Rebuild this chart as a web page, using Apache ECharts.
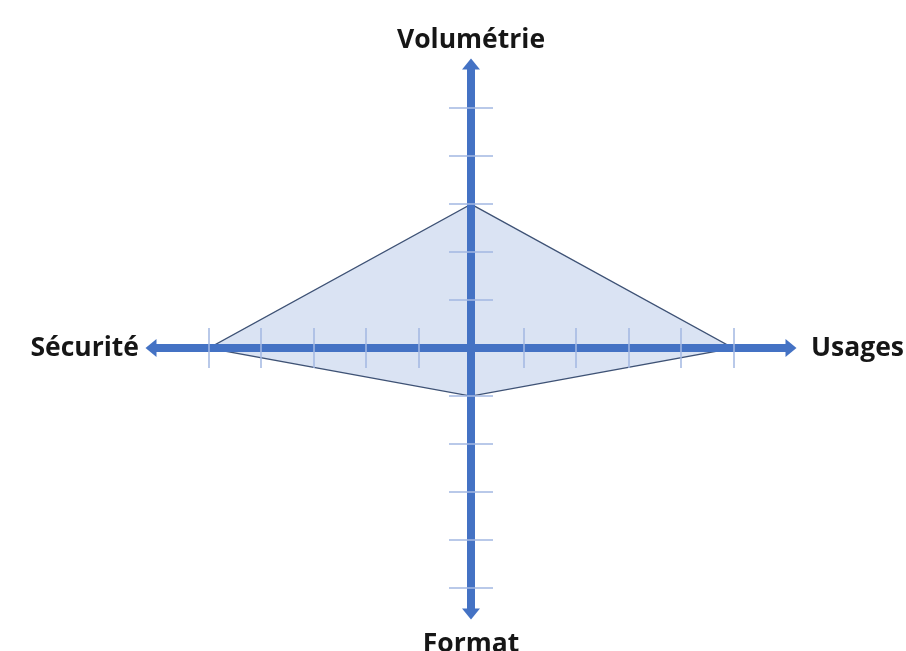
<!DOCTYPE html>
<html>
<head>
<meta charset="utf-8">
<script src="https://cdn.jsdelivr.net/npm/echarts@6/dist/echarts.min.js"></script>
<style>
  html, body { margin: 0; padding: 0; background: #fff; }
  #chart { width: 906px; height: 651px; }
</style>
</head>
<body>
<div id="chart"></div>
<script>
// the four axes, clockwise from the top
const axisNames = ['Volumétrie', 'Usages', 'Format', 'Sécurité'];
const scores = [3, 5, 1, 5];
// tick marks along every axis (centre excluded)
const tickValues = [-5, -4, -3, -2, -1, 1, 2, 3, 4, 5];

// direction of each axis on the x/y plane
const dirs = [[0, 1], [1, 0], [0, -1], [-1, 0]];
const points = scores.map((v, i) => [dirs[i][0] * v, dirs[i][1] * v]);

const blue = '#4472C4';
const tickColor = '#A3B8E2';
const nameStyle = {
  fontFamily: 'Open Sans',
  fontWeight: 'bold',
  fontSize: 26.5,
  color: '#161616'
};

const lineOpts = {
  onZero: true,
  onZeroAxisIndex: 0,
  symbol: ['triangle', 'triangle'],
  symbolSize: [18, 11],
  lineStyle: { color: blue, width: 8, cap: 'butt' }
};

function xAx (name, loc, gap, showLine) {
  return {
    type: 'value',
    min: -6.1,
    max: 6.1,
    z: 5,
    name: name,
    nameLocation: loc,
    nameGap: gap,
    nameTextStyle: nameStyle,
    axisLine: Object.assign({ show: showLine }, lineOpts),
    axisTick: {
      show: true,
      customValues: tickValues,
      length: 20,
      lineStyle: { color: tickColor, width: 1.5 }
    },
    axisLabel: { show: false },
    splitLine: { show: false }
  }
}

function yAx (name, loc, gap, showLine) {
  return {
    type: 'value',
    min: -5.54,
    max: 5.92,
    z: 5,
    name: name,
    nameLocation: loc,
    nameGap: gap,
    nameTextStyle: nameStyle,
    axisLine: Object.assign({ show: showLine }, lineOpts),
    axisTick: {
      show: true,
      customValues: tickValues,
      length: 22,
      lineStyle: { color: tickColor, width: 1.5 }
    },
    axisLabel: { show: false },
    splitLine: { show: false }
  }
}

const chart = echarts.init(document.getElementById('chart'))
const option = {
  animation: false,
  grid: {
    left: 151, right: 115, top: 64, bottom: 37,
    containLabel: false,
    outerBoundsMode: 'none'
  },
  xAxis: [
    xAx(axisNames[1], 'end', 20, true),
    xAx(axisNames[3], 'start', 12, false)
  ],
  yAxis: [
    yAx(axisNames[0], 'end', 10, true),
    yAx(axisNames[2], 'start', 17, false)
  ],
  series: [
    {
      type: 'custom',
      coordinateSystem: 'cartesian2d',
      xAxisIndex: 0,
      yAxisIndex: 0,
      z: 1,
      data: points,
      renderItem: function (params, api) {
        if (params.dataIndex !== 0) return null
        return {
          type: 'polygon',
          shape: { points: points.map(p => api.coord(p)) },
          style: { fill: '#DAE3F3', stroke: '#3E5275', lineWidth: 1.3 }
        }
      }
    }
  ]
}
chart.setOption(option)
</script>
</body>
</html>
